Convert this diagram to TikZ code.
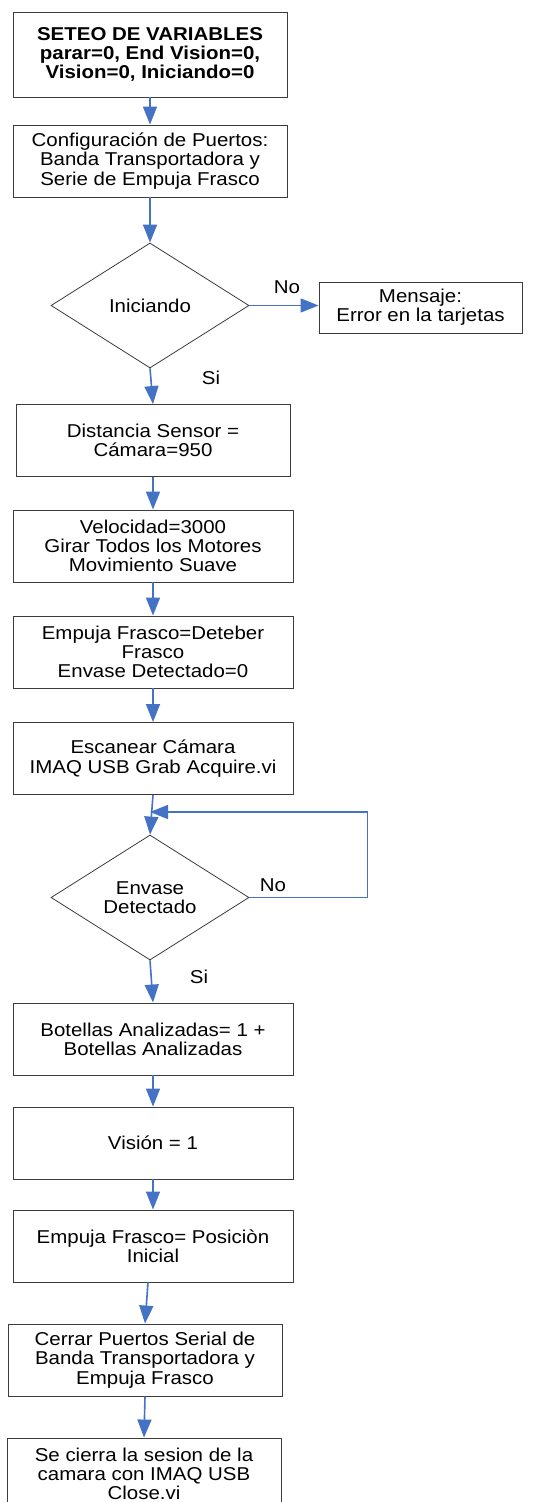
\documentclass[tikz,border=0pt]{standalone}
\usepackage{fontspec}
\setmainfont[FakeStretch=1.1]{Liberation Sans}
\usetikzlibrary{shapes.geometric,arrows.meta}
\definecolor{flowblue}{RGB}{68,114,196}
\definecolor{edgegray}{RGB}{60,60,60}
\begin{document}
\begin{tikzpicture}[x=1pt,y=-1pt,
  txt/.style={font=\fontsize{18.6}{19.3}\selectfont},
  box/.style={draw=edgegray,line width=0.9pt,rectangle,minimum width=#1,
    minimum height=72pt,inner sep=0pt,align=center,txt},
  box/.default=274pt,
  decision/.style={draw=edgegray,line width=0.8pt,diamond,aspect=1.584,
    minimum width=198pt,minimum height=125pt,inner sep=0pt,align=center,txt},
  flow/.style={draw=flowblue,line width=1.6pt,
    -{Triangle[length=18pt,width=14pt,fill=flowblue]}},
  lbl/.style={txt,inner sep=0pt}]
\useasboundingbox (0,0) rectangle (533,1502);
\clip (0,0) rectangle (533,1502);

% process steps
\node[box,minimum height=85pt,font=\bfseries\fontsize{18.6}{19.3}\selectfont] (init) at (150,54.5)
  {SETEO DE VARIABLES\\parar=0, End Vision=0,\\Vision=0, Iniciando=0};
\node[box] (ports) at (150,161) {Configuración de Puertos:\\Banda Transportadora y\\Serie de Empuja Frasco};
\node[decision] (start) at (150,305.5) {Iniciando};
\node[box=203pt,minimum height=51pt] (msg) at (420.5,307.5) {Mensaje:\\Error en la tarjetas};
\node[box] (dist) at (153,440.5) {Distancia Sensor =\\Cámara=950};
\node[box=280pt] (speed) at (153,546) {Velocidad=3000\\Girar Todos los Motores\\Movimiento Suave};
\node[box=280pt] (push) at (153,652) {Empuja Frasco=Deteber\\Frasco\\Envase Detectado=0};
\node[box=280pt] (scan) at (153,758.5) {Escanear Cámara\\IMAQ USB Grab Acquire.vi};
\node[decision] (detect) at (150,897.5) {Envase\\Detectado};
\node[box=280pt] (count) at (153,1039) {Botellas Analizadas= 1 +\\Botellas Analizadas};
\node[box=280pt] (vision) at (153,1143) {Visión = 1};
\node[box=280pt] (home) at (153,1246) {Empuja Frasco= Posiciòn\\Inicial};
\node[box] (close) at (145,1360) {Cerrar Puertos Serial de\\Banda Transportadora y\\Empuja Frasco};
\node[box] (cam) at (144,1474) {Se cierra la sesion de la\\camara con IMAQ USB\\Close.vi};

% branch labels
\node[lbl] (no1) at (287,287) {No};
\node[lbl] (si1) at (211,378) {Si};
\node[lbl] (no2) at (273,885) {No};
\node[lbl] (si2) at (199,977) {Si};

% connectors
\draw[flow] (init.south) -- (ports.north);
\draw[flow] (ports.south) -- (start.north);
\draw[flow] (start.east) -- (start.east -| msg.west);
\draw[flow] (start.south) -- (dist.north);
\draw[flow] (dist.south) -- (speed.north);
\draw[flow] (speed.south) -- (push.north);
\draw[flow] (push.south) -- (scan.north);
\draw[flow] (scan.south) -- (detect.north);
\coordinate (loopjoin) at (150,812);
\draw[flow] (detect.east) -- ++(118,0) |- (loopjoin);
\draw[flow] (detect.south) -- (count.north);
\draw[flow] (count.south) -- (vision.north);
\draw[flow] (vision.south) -- (home.north);
\draw[flow] ([xshift=-5pt]home.south) -- (close.north);
\draw[flow] (close.south) -- (cam.north);
\end{tikzpicture}
\end{document}
